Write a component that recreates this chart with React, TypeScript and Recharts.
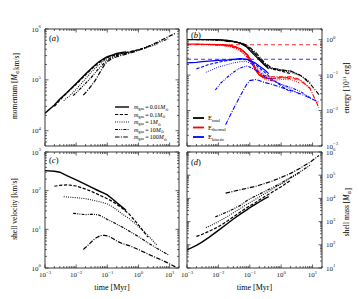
import React from 'react';
import { LineChart, Line, XAxis, YAxis, ReferenceLine } from 'recharts';

const FONT = '"Liberation Serif", "DejaVu Serif", serif';

// ---------- time samples [Myr], one list per simulation (m_gas)
const time001 = [0.001, 0.002, 0.003, 0.005, 0.01, 0.02, 0.03, 0.05, 0.08, 0.1, 0.15, 0.2, 0.3, 0.4];
const time01 = [0.002, 0.003, 0.005, 0.01, 0.02, 0.03, 0.05, 0.08, 0.1, 0.15, 0.2, 0.3, 0.5, 1, 2];
const time1 = [0.004, 0.006, 0.01, 0.02, 0.03, 0.05, 0.08, 0.1, 0.15, 0.2, 0.3, 0.5, 1, 2, 4];
const time10 = [0.008, 0.012, 0.02, 0.03, 0.05, 0.08, 0.1, 0.15, 0.2, 0.3, 0.5, 1, 2, 4, 9];
const time100 = [0.017, 0.025, 0.04, 0.06, 0.08, 0.1, 0.15, 0.2, 0.3, 0.5, 1, 2, 4, 8, 16];

// ---------- (a) momentum [Msun km/s]
const mom001 = [2.2e4, 3.2e4, 4.2e4, 5.6e4, 8.5e4, 1.3e5, 1.65e5, 2.2e5, 2.65e5, 2.85e5, 3.1e5, 3.3e5, 3.45e5, 3.55e5];
const mom01 = [3.0e4, 4.0e4, 5.5e4, 8.2e4, 1.25e5, 1.6e5, 2.1e5, 2.55e5, 2.75e5, 3.0e5, 3.15e5, 3.35e5, 3.55e5, 3.9e5, 4.4e5];
const mom1 = [3.9e4, 4.8e4, 6.5e4, 1.05e5, 1.4e5, 1.9e5, 2.4e5, 2.65e5, 2.95e5, 3.1e5, 3.3e5, 3.5e5, 3.9e5, 4.4e5, 5.0e5];
const mom10 = [4.9e4, 6.2e4, 8.5e4, 1.1e5, 1.6e5, 2.15e5, 2.45e5, 2.8e5, 3.0e5, 3.2e5, 3.45e5, 3.9e5, 4.5e5, 5.3e5, 6.4e5];
const mom100 = [5.0e4, 6.5e4, 9.5e4, 1.45e5, 1.95e5, 2.3e5, 2.65e5, 2.85e5, 3.05e5, 3.3e5, 3.8e5, 4.5e5, 5.5e5, 6.8e5, 8.3e5];

// ---------- (b) energies [1e51 erg]
const eTot001 = [1.0, 1.0, 1.0, 1.0, 1.0, 0.95, 0.9, 0.8, 0.62, 0.5, 0.35, 0.27, 0.19, 0.15];
const eTot01 = [1.0, 1.0, 1.0, 0.98, 0.95, 0.9, 0.8, 0.65, 0.55, 0.4, 0.3, 0.2, 0.15, 0.13, 0.11];
const eTot1 = [0.98, 0.97, 0.96, 0.92, 0.88, 0.78, 0.62, 0.52, 0.38, 0.28, 0.19, 0.15, 0.135, 0.12, 0.095];
const eTot10 = [0.95, 0.94, 0.92, 0.88, 0.8, 0.66, 0.56, 0.4, 0.3, 0.2, 0.155, 0.14, 0.13, 0.1, 0.06];
const eTot100 = [0.9, 0.88, 0.85, 0.78, 0.7, 0.6, 0.45, 0.34, 0.22, 0.16, 0.14, 0.13, 0.1, 0.06, 0.028];

const eTh001 = [0.75, 0.745, 0.74, 0.735, 0.73, 0.7, 0.66, 0.55, 0.38, 0.28, 0.14, 0.1, 0.085, 0.08];
const eTh01 = [0.74, 0.735, 0.73, 0.72, 0.7, 0.66, 0.56, 0.4, 0.3, 0.16, 0.11, 0.085, 0.08, 0.085, 0.08];
const eTh1 = [0.72, 0.71, 0.7, 0.67, 0.62, 0.5, 0.35, 0.26, 0.15, 0.1, 0.075, 0.07, 0.075, 0.075, 0.06];
const eTh10 = [0.7, 0.69, 0.66, 0.6, 0.48, 0.33, 0.25, 0.15, 0.1, 0.08, 0.08, 0.085, 0.085, 0.07, 0.04];
const eTh100 = [0.68, 0.66, 0.6, 0.5, 0.4, 0.3, 0.17, 0.12, 0.095, 0.09, 0.09, 0.09, 0.075, 0.045, 0.012];

const eKin001 = [0.22, 0.23, 0.24, 0.25, 0.26, 0.27, 0.28, 0.29, 0.28, 0.26, 0.22, 0.18, 0.14, 0.11];
const eKin01 = [0.15, 0.17, 0.2, 0.23, 0.26, 0.27, 0.28, 0.27, 0.25, 0.2, 0.16, 0.12, 0.08, 0.05, 0.033];
const eKin1 = [0.12, 0.14, 0.17, 0.2, 0.22, 0.24, 0.24, 0.22, 0.18, 0.14, 0.1, 0.075, 0.055, 0.04, 0.028];
const eKin10 = [0.038, 0.06, 0.09, 0.12, 0.16, 0.18, 0.17, 0.14, 0.12, 0.09, 0.07, 0.055, 0.045, 0.035, 0.022];
const eKin100 = [0.004, 0.008, 0.018, 0.035, 0.055, 0.07, 0.075, 0.07, 0.062, 0.055, 0.045, 0.037, 0.03, 0.023, 0.017];

const sedovThermal = 0.72;
const sedovKinetic = 0.28;

// ---------- (c) shell velocity [km/s]
const vel001 = [330, 318, 300, 246, 189, 145, 123, 101, 85, 78, 60, 49, 37.5, 31];
const vel01 = [130, 137, 142, 132, 110, 97, 80, 67, 62, 52, 44, 35, 25, 13, 6.3];
const vel1 = [70, 68, 66, 62, 58, 53, 48, 45, 38, 32, 25, 19, 12, 7, 3.8];
const vel10 = [26, 25, 24, 24.5, 24, 20, 18, 15.5, 13.5, 11.5, 9, 6.5, 4.5, 3.2, 2.2];
const vel100 = [3.0, 4.0, 5.8, 6.9, 7.0, 6.8, 5.8, 5.0, 4.3, 3.8, 3.0, 2.3, 1.8, 1.4, 1.05];

// ---------- (d) shell mass [Msun]
const mass001 = [60, 95, 130, 210, 420, 850, 1300, 2100, 3200, 4000, 5500, 7000, 9800, 12000];
const mass01 = [230, 280, 380, 600, 1100, 1600, 2600, 4000, 4800, 6500, 8500, 12000, 18000, 32000, 60000];
const mass1 = [550, 700, 1000, 1700, 2400, 3700, 5500, 6600, 9000, 11500, 16000, 24000, 42000, 75000, 130000];
const mass10 = [1600, 2000, 2700, 3500, 5000, 8000, 9500, 12500, 15000, 20000, 28000, 46000, 80000, 140000, 290000];
const mass100 = [17000, 19000, 22000, 25000, 27000, 29000, 33000, 37000, 44000, 55000, 80000, 120000, 200000, 350000, 700000];

// ---------- labels / ticks
const gasMassLabels = ['0.01', '0.1', '1', '10', '100'];
const energyLabels = ['total', 'thermal', 'kinetic'];
const xTicks = [0.001, 0.002, 0.003, 0.004, 0.005, 0.006, 0.007, 0.008, 0.009, 0.01, 0.02, 0.03, 0.04, 0.05, 0.06, 0.07, 0.08, 0.09, 0.1, 0.2, 0.3, 0.4, 0.5, 0.6, 0.7, 0.8, 0.9, 1, 2, 3, 4, 5, 6, 7, 8, 9, 10, 20];
const momTicks = [6e3, 7e3, 8e3, 9e3, 1e4, 2e4, 3e4, 4e4, 5e4, 6e4, 7e4, 8e4, 9e4, 1e5, 2e5, 3e5, 4e5, 5e5, 6e5, 7e5, 8e5, 9e5, 1e6];
const enTicks = [1e-3, 2e-3, 3e-3, 4e-3, 5e-3, 6e-3, 7e-3, 8e-3, 9e-3, 1e-2, 2e-2, 3e-2, 4e-2, 5e-2, 6e-2, 7e-2, 8e-2, 9e-2, 0.1, 0.2, 0.3, 0.4, 0.5, 0.6, 0.7, 0.8, 0.9, 1, 2];
const velTicks = [1, 2, 3, 4, 5, 6, 7, 8, 9, 10, 20, 30, 40, 50, 60, 70, 80, 90, 100, 200, 300, 400, 500, 600, 700, 800, 900, 1000];
const massTicks = [10, 20, 30, 40, 50, 60, 70, 80, 90, 100, 200, 300, 400, 500, 600, 700, 800, 900, 1e3, 2e3, 3e3, 4e3, 5e3, 6e3, 7e3, 8e3, 9e3, 1e4, 2e4, 3e4, 4e4, 5e4, 6e4, 7e4, 8e4, 9e4, 1e5, 2e5, 3e5, 4e5, 5e5, 6e5, 7e5, 8e5, 9e5, 1e6];

const times = [time001, time01, time1, time10, time100];
const moms = [mom001, mom01, mom1, mom10, mom100];
const vels = [vel001, vel01, vel1, vel10, vel100];
const masses = [mass001, mass01, mass1, mass10, mass100];
const eTots = [eTot001, eTot01, eTot1, eTot10, eTot100];
const eThs = [eTh001, eTh01, eTh1, eTh10, eTh100];
const eKins = [eKin001, eKin01, eKin1, eKin10, eKin100];

const lineStyles = [
  { dash: undefined as string | undefined, w: 1.4 },
  { dash: '3.2 1.6', w: 1.2 },
  { dash: '0.9 1.3', w: 1.1 },
  { dash: '3 1.2 0.9 1.2 0.9 1.2', w: 1.2 },
  { dash: '4.5 1.4 1 1.4', w: 1.2 },
];

const pts = (t: number[], v: number[]) => t.map((x, i) => ({ t: x, v: v[i] }));

const AX = '#222';

const expText = (v: number) => {
  const e = Math.round(Math.log10(v));
  return e < 0 ? '\u2212' + String(-e) : String(e);
};

function makeTick(side: 'bottom' | 'top' | 'left' | 'right', margin: number, show: boolean) {
  return (props: any) => {
    const { x, y, payload } = props;
    const v = payload.value as number;
    const lg = Math.log10(v);
    const major = Math.abs(lg - Math.round(lg)) < 1e-6;
    const len = major ? 3.5 : 2;
    let x1 = 0, y1 = 0, x2 = 0, y2 = 0, tx = 0, ty = 0;
    let anchor: 'middle' | 'end' | 'start' = 'middle';
    if (side === 'bottom') { x1 = x2 = x; y1 = y - margin; y2 = y1 - len; tx = x; ty = y + 6; }
    if (side === 'top') { x1 = x2 = x; y1 = y + margin; y2 = y1 + len; }
    if (side === 'left') { y1 = y2 = y; x1 = x + margin; x2 = x1 + len; tx = x; ty = y + 2.5; anchor = 'end'; }
    if (side === 'right') { y1 = y2 = y; x1 = x - margin; x2 = x1 - len; tx = x; ty = y + 2.5; anchor = 'start'; }
    return (
      <g>
        <line x1={x1} y1={y1} x2={x2} y2={y2} stroke={AX} strokeWidth={0.7} />
        {show && major ? (
          <text x={tx} y={ty} textAnchor={anchor} fontFamily={FONT} fill="#222">
            <tspan fontSize={7}>10</tspan>
            <tspan fontSize={4.8} dy={-3.2}>{expText(v)}</tspan>
          </text>
        ) : null}
      </g>
    );
  };
}

type Box = { x: number; y: number; w: number; h: number };

function Panel(props: {
  box: Box;
  yDomain: [number, number];
  yTicks: number[];
  yRight: boolean;
  xLabels: boolean;
  children: React.ReactNode;
}) {
  const { box, yDomain, yTicks, yRight, xLabels, children } = props;
  const M = 3;
  const leftW = yRight ? 12 : box.x;
  const rightW = yRight ? 359 - (box.x + box.w) : 4;
  const topH = 8;
  const bottomH = xLabels ? 299 - (box.y + box.h) : 4;
  const W = leftW + box.w + rightW;
  const H = topH + box.h + bottomH;
  const axLine = { stroke: AX, strokeWidth: 0.9 };
  return (
    <div style={{ position: 'absolute', left: box.x - leftW, top: box.y - topH, width: W, height: H }}>
      <LineChart width={W} height={H} margin={{ top: 0, right: 0, bottom: 0, left: 0 }}>
        <XAxis xAxisId="b" orientation="bottom" type="number" dataKey="t" scale="log" domain={[0.001, 20]} allowDataOverflow
          ticks={xTicks} interval={0} tickSize={0} tickMargin={M} height={bottomH} axisLine={axLine} tickLine={false}
          tick={makeTick('bottom', M, xLabels)} />
        <XAxis xAxisId="t" orientation="top" type="number" dataKey="t" scale="log" domain={[0.001, 20]} allowDataOverflow
          ticks={xTicks} interval={0} tickSize={0} tickMargin={M} height={topH} axisLine={axLine} tickLine={false}
          tick={makeTick('top', M, false)} />
        <YAxis yAxisId="l" orientation="left" type="number" scale="log" domain={yDomain} allowDataOverflow
          ticks={yTicks} interval={0} tickSize={0} tickMargin={M + 1} width={leftW} axisLine={axLine} tickLine={false}
          tick={makeTick('left', M + 1, !yRight)} />
        <YAxis yAxisId="r" orientation="right" type="number" scale="log" domain={yDomain} allowDataOverflow
          ticks={yTicks} interval={0} tickSize={0} tickMargin={M + 1} width={rightW} axisLine={axLine} tickLine={false}
          tick={makeTick('right', M + 1, yRight)} />
        {children}
      </LineChart>
    </div>
  );
}

const seriesLines = (vals: number[][], color: string, prefix: string, scale = 1) =>
  vals.map((v, i) => (
    <Line
      key={prefix + i}
      xAxisId="b"
      yAxisId="l"
      data={pts(times[i], v)}
      dataKey="v"
      type="linear"
      stroke={color}
      strokeWidth={lineStyles[i].w * scale}
      strokeDasharray={lineStyles[i].dash}
      dot={false}
      activeDot={false}
      isAnimationActive={false}
    />
  ));

const Msun = (fs: number) => (
  <>
    <tspan fontStyle="italic">M</tspan>
    <tspan fontSize={fs * 0.65} dy={fs * 0.25}>{'\u2299'}</tspan>
    <tspan dy={-fs * 0.25}>{''}</tspan>
  </>
);

export default function App() {
  const boxA = { x: 45, y: 29, w: 134, h: 117 };
  const boxB = { x: 187, y: 29, w: 135, h: 117 };
  const boxC = { x: 45, y: 152, w: 134, h: 116 };
  const boxD = { x: 187, y: 152, w: 135, h: 116 };
  const legRowsA = [107, 114.5, 122, 129.5, 137];
  const legRowsB = [118, 127.5, 137];
  const eColors = ['#000000', '#ff0000', '#0000ff'];
  return (
    <div style={{ position: 'absolute', left: 0, top: 0, width: 359, height: 299, background: '#fff', overflow: 'hidden' }}>
      <Panel box={boxA} yDomain={[5e3, 1e6]} yTicks={momTicks} yRight={false} xLabels={false}>
        {seriesLines(moms, '#000', 'm')}
      </Panel>
      <Panel box={boxB} yDomain={[1e-3, 2]} yTicks={enTicks} yRight={true} xLabels={false}>
        <ReferenceLine xAxisId="b" yAxisId="l" y={sedovThermal} stroke="#ff0000" strokeWidth={0.8} strokeDasharray="4 3" />
        <ReferenceLine xAxisId="b" yAxisId="l" y={sedovKinetic} stroke="#0000ff" strokeWidth={0.8} strokeDasharray="4 3" />
        {seriesLines(eTots, '#000000', 'et', 0.9)}
        {seriesLines(eThs, '#ff0000', 'eh', 0.9)}
        {seriesLines(eKins, '#0000ff', 'ek', 0.9)}
      </Panel>
      <Panel box={boxC} yDomain={[1, 1000]} yTicks={velTicks} yRight={false} xLabels={true}>
        {seriesLines(vels, '#000', 'v')}
      </Panel>
      <Panel box={boxD} yDomain={[10, 1e6]} yTicks={massTicks} yRight={true} xLabels={true}>
        {seriesLines(masses, '#000', 's')}
      </Panel>

      <svg width={359} height={299} style={{ position: 'absolute', left: 0, top: 0, pointerEvents: 'none' }} fontFamily={FONT}>
        {/* panel letters */}
        <text x={49} y={41} fontSize={8.5}>(<tspan fontStyle="italic">a</tspan>)</text>
        <text x={191} y={38} fontSize={8.5}>(<tspan fontStyle="italic">b</tspan>)</text>
        <text x={49} y={163} fontSize={8.5}>(<tspan fontStyle="italic">c</tspan>)</text>
        <text x={191} y={165} fontSize={8.5}>(<tspan fontStyle="italic">d</tspan>)</text>

        {/* axis titles */}
        <text transform="translate(17,86) rotate(-90)" textAnchor="middle" fontSize={7.5}>
          momentum [{Msun(7.5)}km/s]
        </text>
        <text transform="translate(17,209) rotate(-90)" textAnchor="middle" fontSize={7.5}>shell velocity [km/s]</text>
        <text transform="translate(349,88) rotate(-90)" textAnchor="middle" fontSize={7.5}>
          energy [10<tspan fontSize={5} dy={-3}>51</tspan><tspan dy={3}> erg]</tspan>
        </text>
        <text transform="translate(349,212) rotate(-90)" textAnchor="middle" fontSize={7.5}>
          shell mass [{Msun(7.5)}]
        </text>
        <text x={112} y={290} textAnchor="middle" fontSize={8}>time [Myr]</text>
        <text x={254.5} y={290} textAnchor="middle" fontSize={8}>time [Myr]</text>

        {/* legend (a) */}
        {gasMassLabels.map((lab, i) => (
          <g key={'la' + i}>
            <line x1={115} x2={129} y1={legRowsA[i]} y2={legRowsA[i]} stroke="#000" strokeWidth={lineStyles[i].w} strokeDasharray={lineStyles[i].dash} />
            <text x={134} y={legRowsA[i] + 2} fontSize={6}>
              <tspan fontStyle="italic">m</tspan>
              <tspan fontSize={4.2} dy={1.3}>gas</tspan>
              <tspan dy={-1.3}>{'\u2009=\u2009' + lab}</tspan>
              {Msun(6)}
            </text>
          </g>
        ))}

        {/* legend (b) */}
        {energyLabels.map((lab, i) => (
          <g key={'lb' + i}>
            <line x1={193} x2={204} y1={legRowsB[i]} y2={legRowsB[i]} stroke={eColors[i]} strokeWidth={1.8} />
            <text x={208} y={legRowsB[i] + 2} fontSize={6.5}>
              E<tspan fontSize={4.5} dy={1.5}>{lab}</tspan>
            </text>
          </g>
        ))}
      </svg>
    </div>
  );
}
